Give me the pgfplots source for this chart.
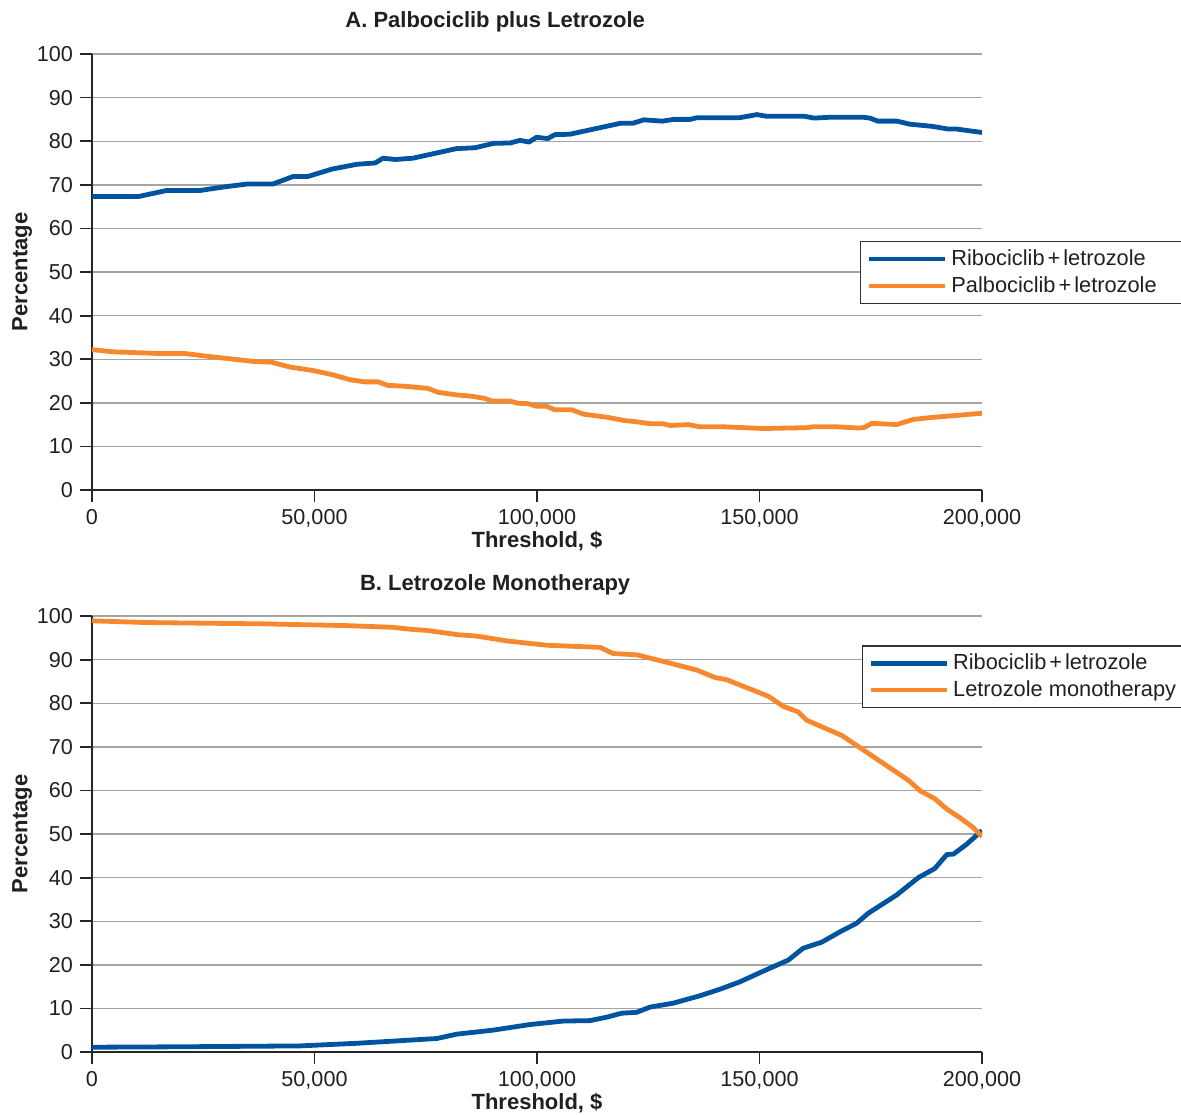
\documentclass[border=0pt]{standalone}
\usepackage{fontspec}
\setmainfont{Liberation Sans}
\usepackage{pgfplots}
\pgfplotsset{compat=1.18}

\definecolor{ribo}{RGB}{0,84,159}
\definecolor{orng}{RGB}{247,136,45}
\definecolor{gridc}{RGB}{165,165,165}
\definecolor{txt}{RGB}{35,31,32}

\pgfplotsset{
  panel/.style={
    scale only axis, width=445pt, height=218pt,
    xmin=0, xmax=200000, ymin=0, ymax=100,
    axis x line*=bottom, axis y line*=left,
    axis line style={draw=black!85, line width=0.9pt},
    scaled x ticks=false, scaled y ticks=false,
    xtick={0,50000,100000,150000,200000},
    xticklabels={0,{50,000},{100,000},{150,000},{200,000}},
    ytick={0,10,20,30,40,50,60,70,80,90,100},
    yticklabels={0,10,20,30,40,50,60,70,80,90,100},
    tick align=outside,
    major tick length=6pt,
    tick style={draw=black!85, line width=0.9pt},
    ymajorgrids, grid style={draw=gridc, line width=0.7pt},
    tick label style={font=\fontsize{10.8}{12}\selectfont, text=txt},
    title style={at={(rel axis cs:0.453,1)}, anchor=base, yshift=7pt,
      font=\bfseries\fontsize{11}{13}\selectfont, text=txt},
    xlabel style={at={(rel axis cs:0.5,-0.117)}, anchor=center,
      font=\bfseries\fontsize{11}{13}\selectfont, text=txt},
    ylabel style={at={(rel axis cs:-0.0785,0.5)}, anchor=center,
      font=\bfseries\fontsize{11}{13}\selectfont, text=txt},
    xlabel={Threshold, \textdollar},
    ylabel={Percentage},
    legend cell align=left,
    legend style={draw=black!80, line width=0.7pt, anchor=north west,
      font=\fontsize{10.9}{12}\selectfont, text=txt,
      inner xsep=3pt, inner ysep=2pt, row sep=0pt},
    legend image code/.code={\draw[#1, line width=2.3pt] (0pt,0pt) -- (38pt,0pt);},
    every axis plot/.append style={line width=2.4pt, line join=round, mark=none},
  }
}

\begin{document}
\begin{tikzpicture}

% Panel A: ribociclib vs palbociclib, both with letrozole
\begin{axis}[panel,
  title={A. Palbociclib plus Letrozole},
  legend style={at={(rel axis cs:0.863,0.571)}},
]
\addplot[ribo] coordinates {
(0,67.3) (10400,67.3) (16800,68.7) (24300,68.7) (30300,69.6) (35000,70.2)
(40700,70.2) (45200,71.9) (48500,71.9) (53900,73.6) (59500,74.7) (63600,75.0)
(65400,76.1) (68100,75.8) (72100,76.1) (81900,78.3) (86100,78.5) (90200,79.5)
(94000,79.6) (96200,80.2) (98200,79.8) (99900,80.9) (102400,80.6) (104000,81.5)
(107400,81.6) (118700,84.1) (121500,84.1) (124000,84.9) (128200,84.6) (130700,85.0)
(134400,85.0) (136000,85.4) (145600,85.4) (149400,86.1) (151700,85.7) (160200,85.7)
(162200,85.3) (166000,85.5) (173300,85.5) (174800,85.3) (176600,84.6) (180900,84.6)
(183800,83.9) (188900,83.4) (192300,82.8) (194200,82.8) (200000,82.0)
};
\addlegendentry{Ribociclib\kern1.5pt+\kern1.5pt letrozole}
\addplot[orng] coordinates {
(0,32.2) (4700,31.7) (15300,31.3) (20900,31.3) (26500,30.6) (36200,29.5)
(40400,29.3) (44500,28.2) (49700,27.4) (54200,26.4) (58000,25.3) (61300,24.8)
(64300,24.8) (66500,24.0) (70300,23.8) (75500,23.3) (77800,22.4) (82000,21.8)
(85400,21.5) (88300,21.0) (89900,20.4) (93900,20.4) (95700,19.9) (98000,19.8)
(99900,19.2) (102200,19.2) (104000,18.4) (107800,18.4) (110400,17.4) (115700,16.7)
(119800,15.9) (122000,15.7) (125400,15.2) (128400,15.2) (129900,14.8) (134000,15.0)
(136600,14.5) (141900,14.5) (150900,14.1) (160600,14.3) (162100,14.5) (167300,14.5)
(172600,14.2) (173700,14.4) (175200,15.3) (180800,15.0) (184600,16.2) (188300,16.6)
(200000,17.6)
};
\addlegendentry{Palbociclib\kern1.5pt+\kern1.5pt letrozole\rule{7.5pt}{0pt}}
\end{axis}

% Panel B: ribociclib + letrozole vs letrozole alone
\begin{axis}[panel, at={(0,-281pt)},
  title={B. Letrozole Monotherapy},
  legend style={at={(rel axis cs:0.865,0.933)}},
]
\addplot[ribo] coordinates {
(0,1.1) (20000,1.2) (46700,1.4) (59500,2.0) (77500,3.1) (82000,4.1) (90000,5.0)
(98400,6.3) (105900,7.1) (111900,7.2) (115700,8.0) (119000,8.9) (122400,9.1)
(125400,10.3) (130600,11.2) (136600,12.9) (141100,14.4) (145600,16.1) (150100,18.2)
(156500,21.1) (159800,23.8) (164000,25.2) (168500,27.8) (171800,29.5) (174400,31.8)
(180800,36.0) (185700,40.0) (189400,42.1) (192100,45.3) (193600,45.4) (196600,47.7)
(200000,50.8)
};
\addlegendentry{Ribociclib\kern1.5pt+\kern1.5pt letrozole}
\addplot[orng] coordinates {
(0,98.9) (12300,98.5) (38500,98.2) (57200,97.8) (67700,97.4) (72200,96.9)
(75200,96.7) (82300,95.7) (86400,95.4) (93200,94.3) (98400,93.7) (102200,93.3)
(114200,92.8) (117100,91.4) (122400,91.1) (129100,89.4) (135900,87.6) (140000,85.9)
(142600,85.4) (152000,81.6) (155300,79.3) (158700,78.0) (160600,76.1) (168500,72.6)
(183500,62.3) (186100,59.9) (189400,58.1) (192100,55.7) (195100,53.7) (198000,51.5)
(200000,49.4)
};
\addlegendentry{Letrozole monotherapy}
\end{axis}

\pgfresetboundingbox
\useasboundingbox (-46pt,-312pt) rectangle (544.5pt,245pt);
\end{tikzpicture}
\end{document}
